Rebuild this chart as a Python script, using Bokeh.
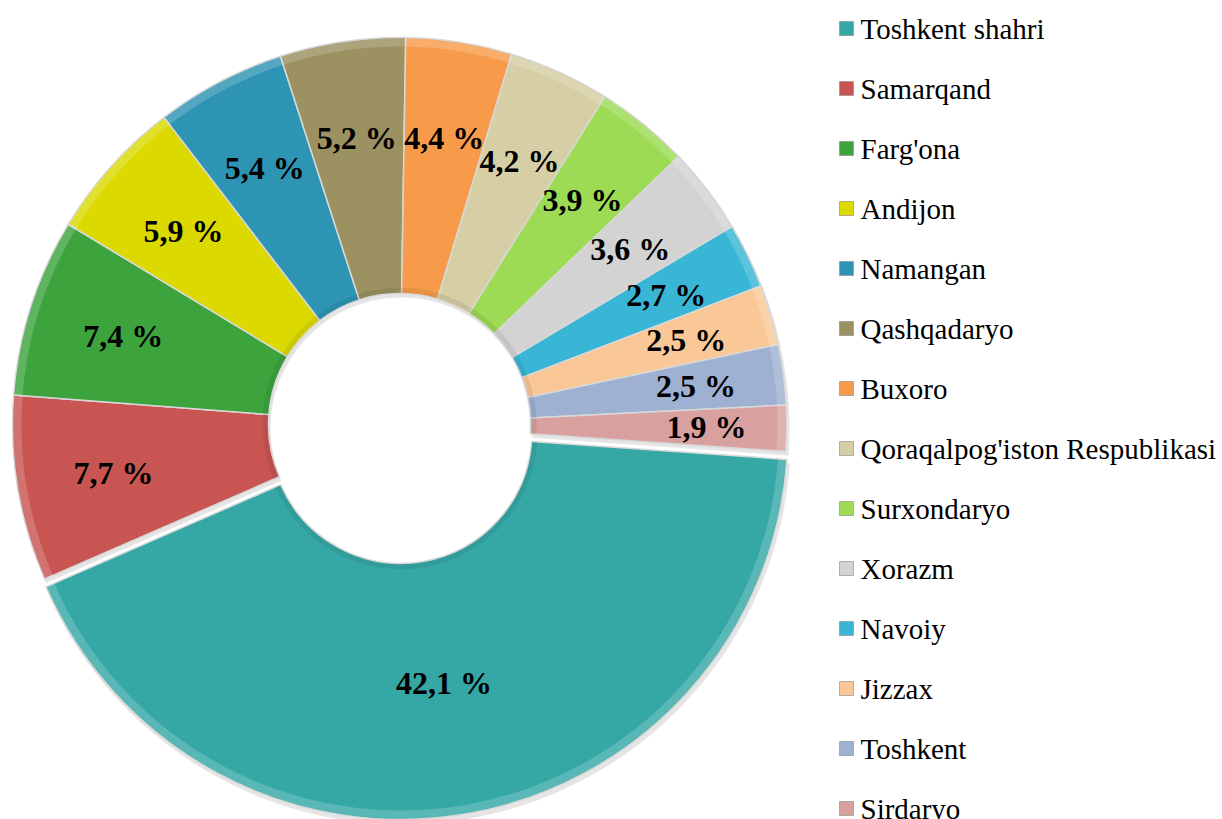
import numpy as np
from bokeh.plotting import figure
from bokeh.models import Range1d, ColumnDataSource
from bokeh.core.properties import value
from bokeh.embed import file_html
from bokeh.resources import INLINE

regions = ["Toshkent shahri", "Samarqand", "Farg'ona", "Andijon", "Namangan",
           "Qashqadaryo", "Buxoro", "Qoraqalpog'iston Respublikasi", "Surxondaryo",
           "Xorazm", "Navoiy", "Jizzax", "Toshkent", "Sirdaryo"]
shares = [42.1, 7.7, 7.4, 5.9, 5.4, 5.2, 4.4, 4.2, 3.9, 3.6, 2.7, 2.5, 2.5, 1.9]
colors = ["#35A8A6", "#C95552", "#3DA33D", "#DCD901", "#2E94B4", "#9C9160",
          "#F79B4A", "#D6CEA4", "#9CDB53", "#D3D3D3", "#39B6D5", "#FAC897",
          "#9EB1D2", "#D9A0A0"]

W, H = 1222, 819

p = figure(width=W, height=H, x_range=Range1d(0, W), y_range=Range1d(0, H),
           output_backend="svg", toolbar_location=None, min_border=0)
p.axis.visible = False
p.grid.visible = False
p.outline_line_color = None
p.background_fill_color = "white"
p.border_fill_color = "white"

cx, cy = 399, H - 424
r_in, r_out = 131, 387
start0 = np.deg2rad(-4.0)

vals = np.array(shares, dtype=float)
frac = vals / vals.sum()
cum = np.cumsum(frac)
starts = start0 - 2 * np.pi * (cum - frac)
ends = start0 - 2 * np.pi * cum
mids = (starts + ends) / 2
explode = np.array([8.0] + [0.0] * (len(vals) - 1))
xs = cx + explode * np.cos(mids)
ys = cy + explode * np.sin(mids)

labels = [f"{v:.1f}".replace(".", ",") + " %" for v in shares]
r_lab = np.where(frac > 0.3, (r_in + r_out) / 2 + 3,
                 290.0 + 13.0 * np.clip(3.2 - vals, 0, None))
lx = cx + r_lab * np.cos(mids)
ly = cy + r_lab * np.sin(mids)

src = ColumnDataSource(dict(x=xs, y=ys, sx=xs + 2, sy=ys - 4, start=starts, end=ends,
                            color=colors, lx=lx, ly=ly, label=labels))

# soft shadow
p.annular_wedge(x="sx", y="sy", inner_radius=r_in, outer_radius=r_out + 1,
                start_angle="start", end_angle="end", direction="clock",
                fill_color="black", fill_alpha=0.10, line_color=None, source=src)
# slices
p.annular_wedge(x="x", y="y", inner_radius=r_in, outer_radius=r_out,
                start_angle="start", end_angle="end", direction="clock",
                fill_color="color", line_color="#D8D8D8", line_width=1.5, source=src)
# bevel highlights
p.annular_wedge(x="x", y="y", inner_radius=r_out - 9, outer_radius=r_out - 1,
                start_angle="start", end_angle="end", direction="clock",
                fill_color="white", fill_alpha=0.18, line_color=None, source=src)
p.annular_wedge(x="x", y="y", inner_radius=r_in + 1, outer_radius=r_in + 6,
                start_angle="start", end_angle="end", direction="clock",
                fill_color="black", fill_alpha=0.07, line_color=None, source=src)

p.text(x="lx", y="ly", text="label", source=src, text_align="center",
       text_baseline="middle", text_font=value("Liberation Serif"),
       text_font_style="bold", text_font_size="32px", text_color="black")

# legend
n = len(regions)
leg_y = H - (28 + 60 * np.arange(n))
leg = ColumnDataSource(dict(x=[846] * n, tx=[860] * n, y=leg_y, color=colors, name=regions))
p.scatter(x="x", y="y", marker="square", size=14, fill_color="color",
          line_color="#888888", line_width=0.6, source=leg)
p.text(x="tx", y="y", text="name", source=leg, text_align="left", text_baseline="middle",
       text_font=value("Liberation Serif"), text_font_size="29px", text_color="black")

open("out.html", "w").write(file_html(p, INLINE))
